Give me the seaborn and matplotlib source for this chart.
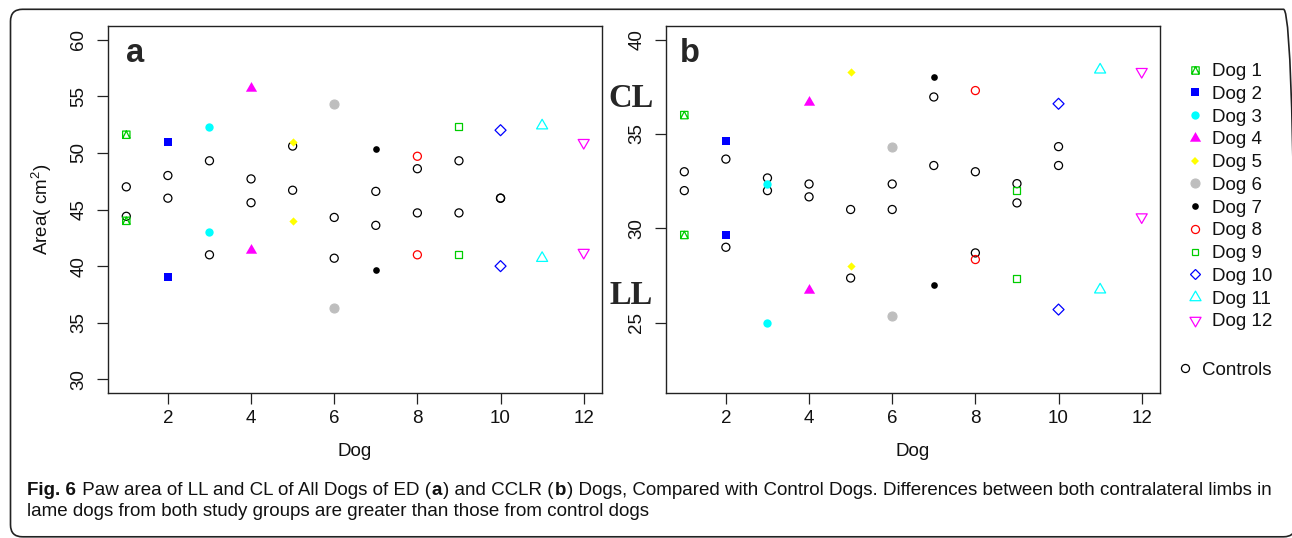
import numpy as np
import pandas as pd
import matplotlib
matplotlib.use("Agg")
import matplotlib.pyplot as plt
import seaborn as sns
from matplotlib.path import Path
from matplotlib.lines import Line2D
from matplotlib.patches import FancyBboxPatch

# ---------------- data ----------------
dog_labels = ["Dog 1", "Dog 2", "Dog 3", "Dog 4", "Dog 5", "Dog 6",
              "Dog 7", "Dog 8", "Dog 9", "Dog 10", "Dog 11", "Dog 12"]
dog_x = [1, 2, 3, 4, 5, 6, 7, 8, 9, 10, 11, 12]
control_x = [1, 2, 3, 4, 5, 6, 7, 8, 9, 10]

# panel a (ED dogs)
ed_upper = [51.6, 51.0, 52.3, 55.7, 51.0, 54.3, 50.3, 49.7, 52.3, 52.0, 52.4, 50.9]
ed_lower = [44.0, 39.0, 43.0, 41.4, 44.0, 36.3, 39.7, 41.0, 41.0, 40.0, 40.7, 41.2]
ed_ctrl_upper = [47.0, 48.0, 49.3, 47.7, 50.6, 44.3, 46.6, 48.6, 49.3, 46.0]
ed_ctrl_lower = [44.4, 46.0, 41.0, 45.6, 46.7, 40.7, 43.6, 44.7, 44.7, 46.0]

# panel b (CCLR dogs)
cclr_upper = [36.0, 34.65, 32.35, 36.7, 38.3, 34.3, 38.0, 37.3, 32.0, 36.6, 38.4, 38.3]
cclr_lower = [29.65, 29.65, 25.0, 26.75, 28.0, 25.35, 27.0, 28.35, 27.35, 25.7, 26.75, 30.6]
cclr_ctrl_upper = [33.0, 33.67, 32.67, 32.35, 31.0, 32.35, 36.96, 33.0, 32.37, 34.33]
cclr_ctrl_lower = [32.0, 29.0, 32.0, 31.67, 27.37, 31.0, 33.33, 28.7, 31.35, 33.33]

x_ticks = [2, 4, 6, 8, 10, 12]
ed_y_ticks = [30, 35, 40, 45, 50, 55, 60]
cclr_y_ticks = [25, 30, 35, 40]

dog_colors = ["#00CD00", "#0000FF", "#00FFFF", "#FF00FF", "#FFFF00", "#BEBEBE",
              "#000000", "#FF0000", "#00CD00", "#0000FF", "#00FFFF", "#FF00FF"]
dog_pch = [14, 15, 16, 17, 18, 19, 20, 1, 0, 5, 2, 6]

# ---------------- styles ----------------
sns.set_style("white")
plt.rcParams["font.family"] = ["Liberation Sans", "DejaVu Sans"]
plt.rcParams["mathtext.fontset"] = "custom"
plt.rcParams["mathtext.rm"] = "Liberation Sans"
plt.rcParams["mathtext.it"] = "Liberation Sans:italic"
plt.rcParams["mathtext.bf"] = "Liberation Sans:bold"

sq_tri = Path([(-1, -1), (1, -1), (1, 1), (-1, 1), (-1, -1), (-1, -1), (0, 1), (1, -1)],
              [Path.MOVETO, Path.LINETO, Path.LINETO, Path.LINETO, Path.CLOSEPOLY,
               Path.MOVETO, Path.LINETO, Path.LINETO])
tri_up = Path([(0, 1.555), (1.347, -0.778), (-1.347, -0.778), (0, 1.555)],
              [Path.MOVETO, Path.LINETO, Path.LINETO, Path.CLOSEPOLY])
tri_dn = Path([(0, -1.555), (1.347, 0.778), (-1.347, 0.778), (0, -1.555)],
              [Path.MOVETO, Path.LINETO, Path.LINETO, Path.CLOSEPOLY])

# pch -> (marker, size_pt, filled, linewidth)
pch_style = {
    0: ("s", 5.0, False, 0.9),
    1: ("o", 5.8, False, 0.9),
    2: (tri_up, 9.2, False, 0.9),
    5: ("D", 5.6, False, 0.9),
    6: (tri_dn, 9.2, False, 0.9),
    14: (sq_tri, 5.3, False, 0.9),
    15: ("s", 5.9, True, 0.0),
    16: ("o", 6.0, True, 0.0),
    17: (tri_up, 9.3, True, 0.0),
    18: ("D", 4.2, True, 0.0),
    19: ("o", 6.5, True, 0.8),
    20: ("o", 4.8, True, 0.0),
}

# long-format tables
rows = []
for i in range(len(dog_labels)):
    rows.append(("a", dog_labels[i], dog_x[i], ed_upper[i]))
    rows.append(("a", dog_labels[i], dog_x[i], ed_lower[i]))
    rows.append(("b", dog_labels[i], dog_x[i], cclr_upper[i]))
    rows.append(("b", dog_labels[i], dog_x[i], cclr_lower[i]))
for i in range(len(control_x)):
    rows.append(("a", "Controls", control_x[i], ed_ctrl_upper[i]))
    rows.append(("a", "Controls", control_x[i], ed_ctrl_lower[i]))
    rows.append(("b", "Controls", control_x[i], cclr_ctrl_upper[i]))
    rows.append(("b", "Controls", control_x[i], cclr_ctrl_lower[i]))
df = pd.DataFrame(rows, columns=["panel", "group", "dog", "area"])

W, H = 1292, 538
fig = plt.figure(figsize=(W / 100, H / 100), dpi=100)
fig.patch.set_facecolor("white")

def axes_px(l, t, r, b):
    return fig.add_axes([l / W, (H - b) / H, (r - l) / W, (b - t) / H])

ax_a = axes_px(108, 26, 602, 393)
ax_b = axes_px(666, 26, 1160, 393)

def draw_group(ax, sub, pch, color):
    m, ms, filled, lw = pch_style[pch]
    if filled:
        sns.scatterplot(data=sub, x="dog", y="area", marker=m, s=ms ** 2,
                        color=color, edgecolor=color, linewidth=lw,
                        ax=ax, legend=False, zorder=3)
    else:
        sns.scatterplot(data=sub, x="dog", y="area", marker=m, s=ms ** 2,
                        facecolor="none", edgecolor=color, linewidth=lw,
                        ax=ax, legend=False, zorder=3)

for ax, panel in [(ax_a, "a"), (ax_b, "b")]:
    d = df[df["panel"] == panel]
    draw_group(ax, d[d["group"] == "Controls"], 1, "#000000")
    for i, lab in enumerate(dog_labels):
        draw_group(ax, d[d["group"] == lab], dog_pch[i], dog_colors[i])

frame_c = "#222222"
for ax, yt, ylim in [(ax_a, ed_y_ticks, (28.8, 61.2)), (ax_b, cclr_y_ticks, (21.28, 40.72))]:
    ax.set_xlim(0.56, 12.44)
    ax.set_ylim(*ylim)
    ax.set_xticks(x_ticks)
    ax.set_yticks(yt)
    ax.set_xticklabels([str(v) for v in x_ticks])
    ax.set_yticklabels([str(v) for v in yt])
    for s in ax.spines.values():
        s.set_visible(True)
        s.set_color(frame_c)
        s.set_linewidth(1.0)
    ax.tick_params(axis="both", direction="out", length=7.9, width=0.9,
                   color=frame_c, labelsize=13.5, labelcolor="#111111",
                   bottom=True, left=True, top=False, right=False)
    ax.tick_params(axis="x", pad=4.5)
    ax.tick_params(axis="y", pad=7, labelrotation=90)
    plt.setp(ax.get_yticklabels(), va="center")
    ax.set_xlabel("Dog", fontsize=13.5, color="#111111")
    ax.xaxis.set_label_coords(0.5, -0.136)
    ax.grid(False)
    ax.set_facecolor("white")

ax_a.set_ylabel(r"Area( cm$^{2}$)", fontsize=13.5, color="#111111")
ax_a.yaxis.set_label_coords(-0.109, 0.5)
ax_b.set_ylabel("")

ax_a.text(0.0557, 0.9011, "a", transform=ax_a.transAxes, fontsize=23.5,
          fontweight="bold", ha="center", va="baseline")
ax_b.text(0.0486, 0.9011, "b", transform=ax_b.transAxes, fontsize=23.5,
          fontweight="bold", ha="center", va="baseline")

serif = ["Liberation Serif", "DejaVu Serif"]
fig.text(631 / W, 1 - 106.7 / H, "CL", family=serif, fontweight="bold",
         fontsize=23.5, ha="center", va="baseline")
fig.text(631 / W, 1 - 304 / H, "LL", family=serif, fontweight="bold",
         fontsize=23.5, ha="center", va="baseline")

# legends
def handle(pch, color):
    m, ms, filled, lw = pch_style[pch]
    return Line2D([], [], linestyle="None", marker=m, markersize=ms,
                  markerfacecolor=color if filled else "none",
                  markeredgecolor=color, markeredgewidth=lw if lw > 0 else 0.0)

dog_handles = [handle(dog_pch[i], dog_colors[i]) for i in range(len(dog_labels))]
leg1 = fig.legend(dog_handles, dog_labels, loc="upper left",
                  bbox_to_anchor=(1185.6 / W, 1 - 63 / H), frameon=False,
                  fontsize=13.5, handlelength=1.0, handletextpad=0.4,
                  labelspacing=0.3, borderpad=0, borderaxespad=0)
leg2 = fig.legend([handle(1, "#000000")], ["Controls"], loc="upper left",
                  bbox_to_anchor=(1175.6 / W, 1 - 361.5 / H), frameon=False,
                  fontsize=13.5, handlelength=1.0, handletextpad=0.4,
                  borderpad=0, borderaxespad=0)
for leg in (leg1, leg2):
    for t in leg.get_texts():
        t.set_color("#111111")

# outer frame
frame = FancyBboxPatch((0.105, 0.012), 12.85, 5.275,
                       boxstyle="round,pad=0,rounding_size=0.12",
                       transform=fig.dpi_scale_trans, fill=False,
                       edgecolor="#222222", linewidth=1.2, zorder=0)
fig.add_artist(frame)

# caption
cap_family = ["Liberation Sans Narrow", "Liberation Sans"]
line1 = [("Fig. 6", "bold"), (" Paw area of LL and CL of All Dogs of ED (", "normal"),
         ("a", "bold"), (") and CCLR (", "normal"), ("b", "bold"),
         (") Dogs, Compared with Control Dogs. Differences between both contralateral limbs in", "normal")]
line2 = [("lame dogs from both study groups are greater than those from control dogs", "normal")]

fig.canvas.draw()
renderer = fig.canvas.get_renderer()

def place(pieces, x0, yb, size):
    arts = []
    x = x0
    for txt, wt in pieces:
        t = fig.text(x / W, 1 - yb / H, txt, fontsize=size, fontweight=wt,
                     family=cap_family, ha="left", va="baseline", color="#111111")
        bb = t.get_window_extent(renderer)
        x = bb.x1 + 1.0
        arts.append(t)
    return arts, x

size = 11.0
for _ in range(3):
    arts, xend = place(line1, 27, 495, size)
    width = xend - 27
    for a in arts:
        a.remove()
    size = size * (1239.0 / width)
place(line1, 27, 495, size)
place(line2, 27, 516, size)

fig.savefig("out.png", dpi=100, facecolor="white")
